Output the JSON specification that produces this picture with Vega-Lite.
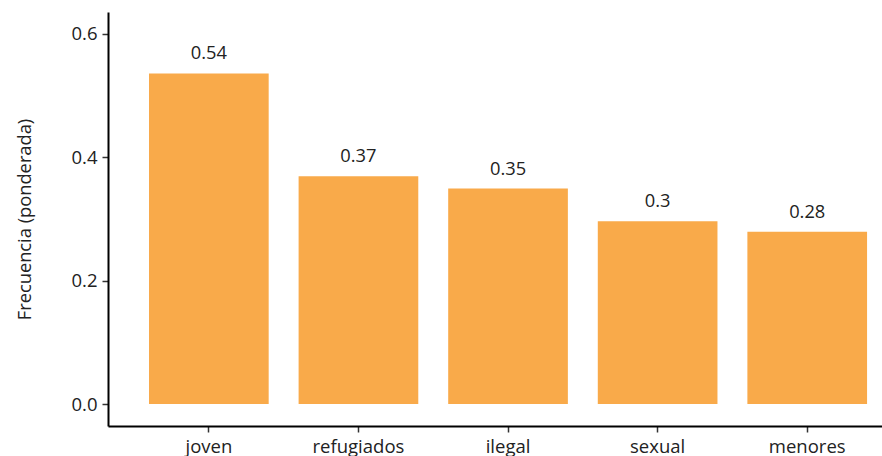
{
  "$schema": "https://vega.github.io/schema/vega-lite/v6.json",
  "width": 774,
  "height": 414,
  "autosize": {"type": "none"},
  "padding": {"left": 108, "top": 12, "right": 0, "bottom": 30},
  "background": "white",
  "config": {
    "view": {"stroke": null},
    "font": "Open Sans"
  },
  "data": {
    "values": [
      {"palabra": "joven", "frecuencia": 0.5355},
      {"palabra": "refugiados", "frecuencia": 0.369},
      {"palabra": "ilegal", "frecuencia": 0.349},
      {"palabra": "sexual", "frecuencia": 0.296},
      {"palabra": "menores", "frecuencia": 0.279}
    ]
  },
  "encoding": {
    "x": {
      "field": "palabra",
      "type": "nominal",
      "sort": null,
      "scale": {"paddingInner": 0.2, "paddingOuter": 0.187, "align": 0.733},
      "axis": {
        "title": null,
        "labelAngle": 0,
        "labelFont": "Open Sans",
        "labelFontSize": 18.5,
        "labelColor": "#222222",
        "labelPadding": 5,
        "domainColor": "#000000",
        "domainWidth": 2,
        "tickColor": "#333333",
        "tickWidth": 1.5,
        "tickSize": 6,
        "grid": false
      }
    },
    "y": {
      "field": "frecuencia",
      "type": "quantitative",
      "scale": {"domain": [-0.0356, 0.635], "zero": false, "nice": false},
      "axis": {
        "title": "Frecuencia (ponderada)",
        "titleFont": "Open Sans",
        "titleFontSize": 18.3,
        "titleFontWeight": "normal",
        "titleColor": "#222222",
        "titlePadding": 36,
        "values": [0, 0.2, 0.4, 0.6],
        "format": ".1f",
        "labelFont": "Open Sans",
        "labelFontSize": 18.5,
        "labelColor": "#222222",
        "labelPadding": 5,
        "domainColor": "#000000",
        "domainWidth": 2,
        "tickColor": "#333333",
        "tickWidth": 1.5,
        "tickSize": 6,
        "grid": false
      }
    }
  },
  "layer": [
    {
      "mark": {"type": "bar", "color": "#F9AA4A"}
    },
    {
      "mark": {"type": "text", "baseline": "alphabetic", "dy": -14, "fontSize": 18.3, "font": "Open Sans", "color": "#222222"},
      "encoding": {
        "text": {"field": "frecuencia", "type": "quantitative", "format": ".2~f"}
      }
    }
  ]
}
